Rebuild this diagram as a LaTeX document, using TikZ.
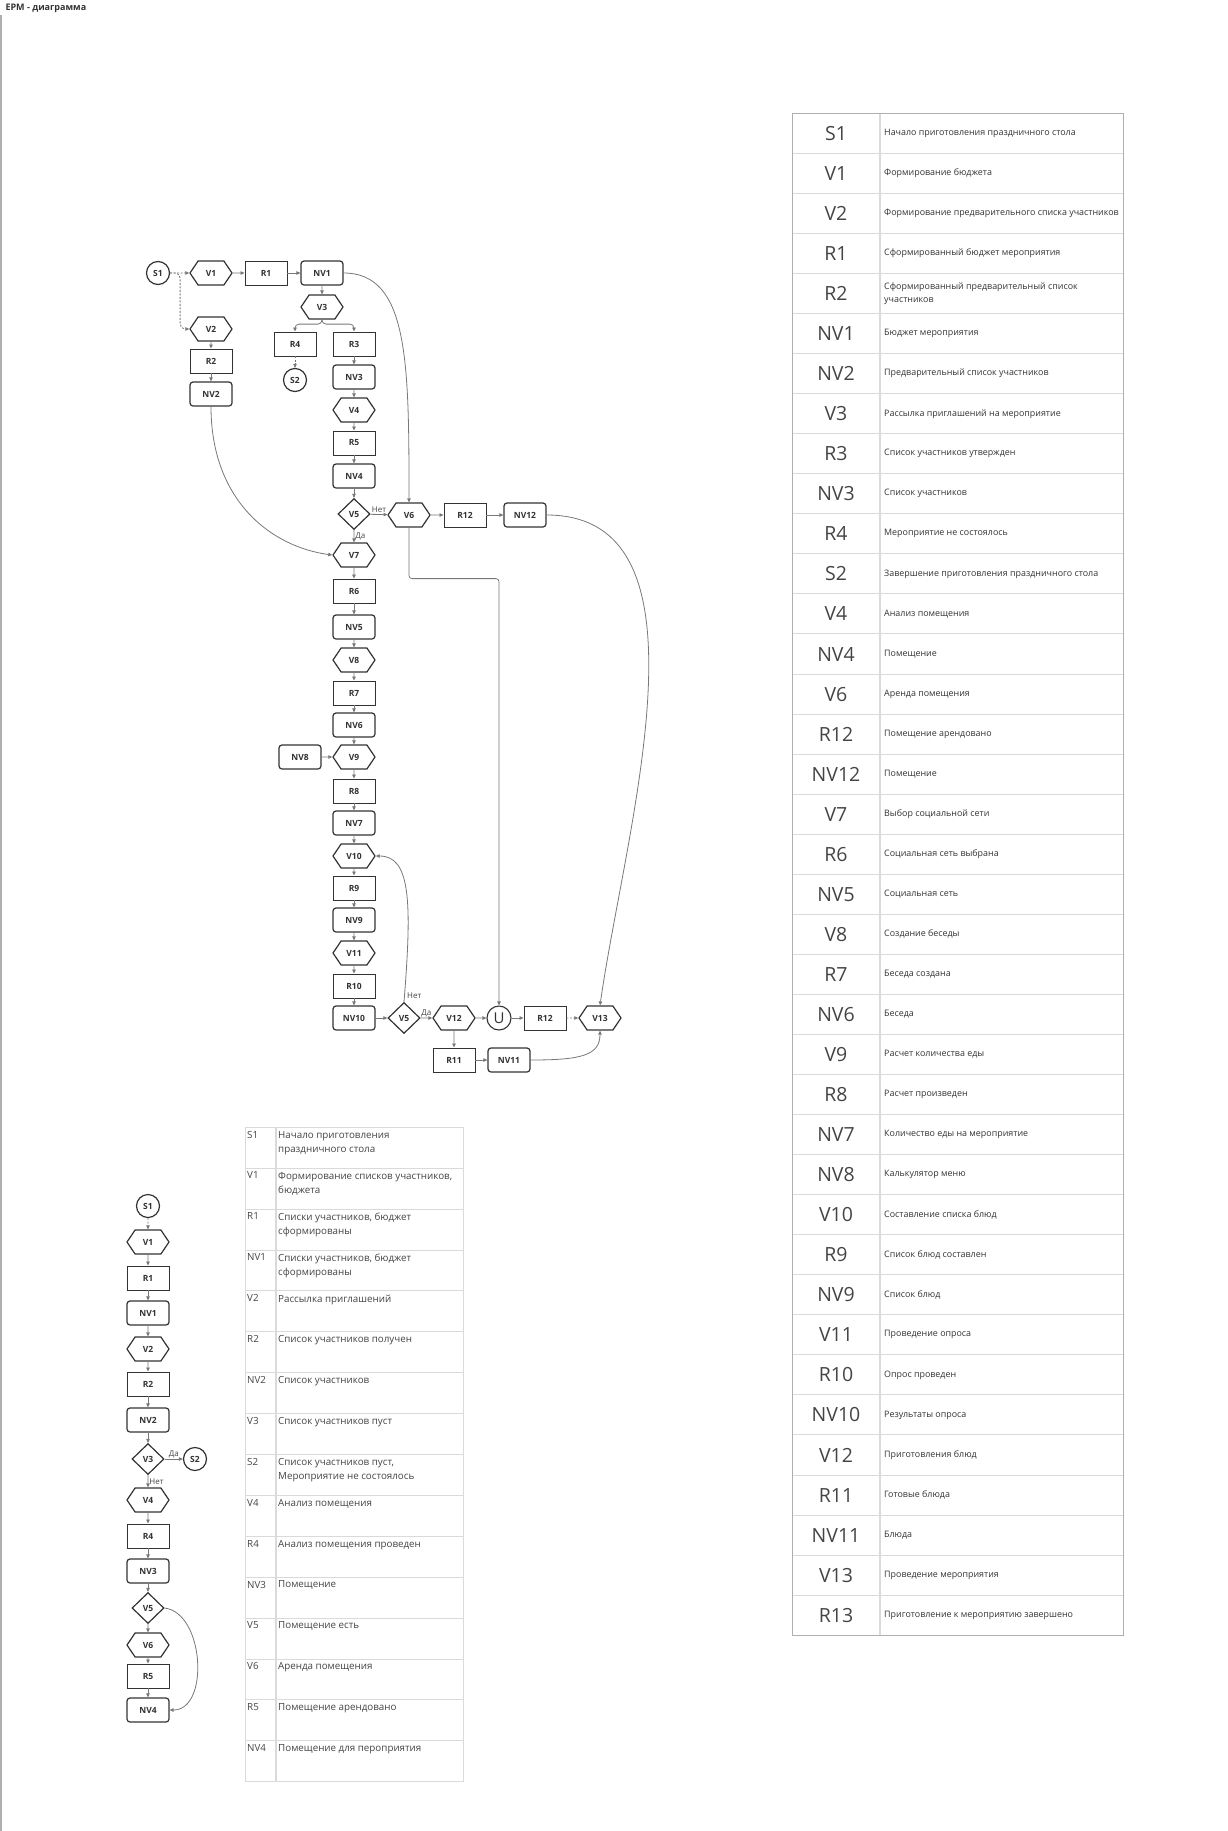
\documentclass[tikz,border=0pt]{standalone}
\usepackage{fontspec}
\setmainfont{Open Sans}
\usetikzlibrary{shapes.geometric,shapes.symbols,arrows.meta}
\definecolor{line-color}{RGB}{120,120,120}
\definecolor{box-color}{RGB}{51,51,51}
\definecolor{grid-color}{RGB}{218,218,218}
\definecolor{frame-color}{RGB}{175,175,175}
\definecolor{text-color}{RGB}{68,68,68}

\tikzset{
  base/.style={draw=box-color, line width=1.2pt, fill=white, inner sep=0pt,
    font=\fontsize{8.5}{9}\selectfont\bfseries, text=box-color},
  event/.style={base, signal, signal to=east and west, signal pointer angle=112,
    minimum width=42pt, minimum height=24pt},
  result/.style={base, rectangle, line width=0.9pt, minimum width=42pt, minimum height=24pt},
  source/.style={base, rectangle, rounded corners=3pt, minimum width=42pt, minimum height=24pt},
  terminal/.style={base, circle, minimum size=23pt},
  choice/.style={base, diamond, minimum width=32pt, minimum height=31pt},
  flow/.style={draw=line-color, line width=0.8pt, -{Triangle[length=4pt,width=3.5pt]}},
  flowdot/.style={flow, dash pattern=on 2pt off 1.5pt},
  answer/.style={font=\fontsize{8}{9}\selectfont, text=text-color, inner sep=1pt},
}

\begin{document}
\begin{tikzpicture}[x=1pt, y=-1pt]
    \useasboundingbox (0,0) rectangle (1228,1831);

    % title and frame
    \node[anchor=west, font=\fontsize{9}{10}\selectfont\bfseries, text=box-color] (title) at (2,8) {EPM - диаграмма};
    \draw[frame-color, line width=1.2pt] (1,15) -- (1,1831);

    % --- main diagram ---
    \node[terminal] (S1) at (158,273) {S1};
    \node[event]  (V1)  at (211,273) {V1};
    \node[result] (R1)  at (266,273) {R1};
    \node[source] (NV1) at (322,273) {NV1};
    \node[event]  (V3)  at (322,307) {V3};
    \node[result] (R4)  at (295,344) {R4};
    \node[terminal] (S2) at (295,380) {S2};
    \node[event]  (V2)  at (211,329) {V2};
    \node[result] (R2)  at (211,361) {R2};
    \node[source] (NV2) at (211,394) {NV2};

    \foreach \kind/\name/\y in {result/R3/344, source/NV3/377, event/V4/410, result/R5/443,
        source/NV4/476, choice/V5/514, event/V7/555, result/R6/591, source/NV5/627,
        event/V8/660, result/R7/693, source/NV6/725, event/V9/757, result/R8/791,
        source/NV7/823, event/V10/856, result/R9/888, source/NV9/920, event/V11/953,
        result/R10/986, source/NV10/1018}
      \node[\kind] (\name) at (354,\y) {\name};

    \node[event]  (V6)   at (409,515) {V6};
    \node[result] (R12)  at (465,515) {R12};
    \node[source] (NV12) at (525,515) {NV12};
    \node[source] (NV8)  at (300,757) {NV8};

    \node[choice] (V5b)  at (404,1018) {V5};
    \node[event]  (V12)  at (454,1018) {V12};
    \node[terminal, font=\fontsize{15}{15}\selectfont, line width=1.1pt, minimum size=24pt] (U) at (499,1018) {U};
    \node[result] (R12b) at (545,1018) {R12};
    \node[event]  (V13)  at (600,1018) {V13};
    \node[result] (R11)  at (454,1060) {R11};
    \node[source] (NV11) at (509,1060) {NV11};

    % connectors
    \draw[flowdot] (S1) -- (V1);
    \draw[flowdot, rounded corners=5pt] (S1.east) -- ++(10,0) |- (V2.west);
    \draw[flow] (V1) -- (R1);
    \draw[flow] (R1) -- (NV1);
    \draw[flow] (NV1) -- (V3);
    \draw[flow, rounded corners=4pt] (V3.south) -- ++(0,4.5) -| (R4.north);
    \draw[flow, rounded corners=4pt] (V3.south) -- ++(0,4.5) -| (R3.north);
    \draw[flowdot] (R4) -- (S2);
    \draw[flow] (V2) -- (R2);
    \draw[flow] (R2) -- (NV2);

    \foreach \a/\b in {R3/NV3, NV3/V4, V4/R5, R5/NV4, NV4/V5, V7/R6, R6/NV5, NV5/V8,
        V8/R7, R7/NV6, NV6/V9, V9/R8, R8/NV7, NV7/V10, V10/R9, R9/NV9, NV9/V11,
        V11/R10, R10/NV10}
      \draw[flow] (\a) -- (\b);

    \draw[flow] (V5) -- node[answer, above] {Нет} (V6);
    \draw[flow] (V5) -- node[answer, right] {Да} (V7);
    \draw[flow] (V6) -- (R12);
    \draw[flow] (R12) -- (NV12);
    \draw[flow] (NV8) -- (V9);
    \draw[flow] (NV1.east) .. controls +(65,0) and +(0,-140) .. (V6.north);
    \draw[flow] (NV2.south) .. controls +(0,95) and +(-60,-8) .. (V7.west);
    \draw[flow, rounded corners=3pt] (V6.south) -- ++(0,51) -| (U.north);
    \draw[flow] (NV12.east) .. controls +(174,0) and +(25,-176) .. (V13.north);

    \draw[flow] (NV10) -- (V5b);
    \draw[flow] (V5b) -- node[answer, above] {Да} (V12);
    \draw[flow] (V5b.north) .. controls +(8,-100) and +(35,0) .. (V10.east);
    \node[answer, anchor=west] (no) at ([xshift=2pt,yshift=6pt]V5b.north) {Нет};
    \draw[flow] (V12) -- (U);
    \draw[flow] (U) -- (R12b);
    \draw[flowdot] (R12b) -- (V13);
    \draw[flow] (V12) -- (R11);
    \draw[flow] (R11) -- (NV11);
    \draw[flow] (NV11.east) .. controls +(50,0) and +(0,25) .. (V13.south);

    % --- small diagram ---
    \foreach \kind/\name/\lbl/\y in {terminal/bS1/S1/1206, event/bV1/V1/1242, result/bR1/R1/1278,
        source/bNV1/NV1/1313, event/bV2/V2/1349, result/bR2/R2/1384, source/bNV2/NV2/1420,
        choice/bV3/V3/1459, event/bV4/V4/1500, result/bR4/R4/1536, source/bNV3/NV3/1571,
        choice/bV5/V5/1608, event/bV6/V6/1645, result/bR5/R5/1676, source/bNV4/NV4/1710}
      \node[\kind] (\name) at (148,\y) {\lbl};
    \node[terminal] (bS2) at (195,1459) {S2};

    \draw[flowdot] (bS1) -- (bV1);
    \foreach \a/\b in {bV1/bR1, bR1/bNV1, bNV1/bV2, bV2/bR2, bR2/bNV2, bNV2/bV3,
        bV4/bR4, bR4/bNV3, bNV3/bV5, bV5/bV6, bV6/bR5, bR5/bNV4}
      \draw[flow] (\a) -- (\b);
    \draw[flow] (bV3) -- node[answer, above] {Да} (bS2);
    \draw[flow] (bV3) -- node[answer, right] {Нет} (bV4);
    \draw[flow] (bV5.east) .. controls +(40,5) and +(40,0) .. (bNV4.east);

    % --- legend, right ---
    \foreach \code/\desc [count=\i] in {S1/Начало приготовления праздничного стола,
        V1/Формирование бюджета, V2/Формирование предварительного списка участников,
        R1/Сформированный бюджет мероприятия, R2/Сформированный предварительный список\\участников,
        NV1/Бюджет мероприятия, NV2/Предварительный список участников,
        V3/Рассылка приглашений на мероприятие, R3/Список участников утвержден,
        NV3/Список участников, R4/Мероприятие не состоялось,
        S2/Завершение приготовления праздничного стола, V4/Анализ помещения,
        NV4/Помещение, V6/Аренда помещения, R12/Помещение арендовано, NV12/Помещение,
        V7/Выбор социальной сети, R6/Социальная сеть выбрана, NV5/Социальная сеть,
        V8/Создание беседы, R7/Беседа создана, NV6/Беседа, V9/Расчет количества еды,
        R8/Расчет произведен, NV7/Количество еды на мероприятие, NV8/Калькулятор меню,
        V10/Составление списка блюд, R9/Список блюд составлен, NV9/Список блюд,
        V11/Проведение опроса, R10/Опрос проведен, NV10/Результаты опроса,
        V12/Приготовления блюд, R11/Готовые блюда, NV11/Блюда,
        V13/Проведение мероприятия, R13/Приготовление к мероприятию завершено} {
      \draw[grid-color, line width=1pt] (792,113.3+\i*40.05) -- (1123,113.3+\i*40.05);
      \node[font=\fontsize{19.5}{19.5}\selectfont, text=text-color] (rk\i) at (836,93.3+\i*40.05) {\code};
      \node[anchor=west, align=left, font=\fontsize{8.9}{13}\selectfont, text=box-color, inner sep=0pt]
        (rd\i) at (884,93.3+\i*40.05) {\desc};
    }
    \draw[grid-color, line width=1.8pt] (880,113.3) -- (880,1635);
    \draw[frame-color, line width=1pt] (792,113.3) rectangle (1123,1635);

    % --- legend, left ---
    \foreach \code/\desc [count=\i] in {S1/Начало приготовления\\праздничного стола,
        V1/{Формирование списков участников,\\бюджета}, R1/{Списки участников, бюджет\\сформированы},
        NV1/{Списки участников, бюджет\\сформированы}, V2/Рассылка приглашений,
        R2/Список участников получен, NV2/Список участников, V3/Список участников пуст,
        S2/{Список участников пуст,\\Мероприятие не состоялось}, V4/Анализ помещения,
        R4/Анализ помещения проведен, NV3/Помещение, V5/Помещение есть,
        V6/Аренда помещения, R5/Помещение арендовано, NV4/Помещение для пероприятия} {
      \draw[grid-color, line width=1pt] (245,1127.3+\i*40.9) -- (463,1127.3+\i*40.9);
      \node[anchor=north west, font=\fontsize{9.8}{14.5}\selectfont, text=text-color, inner sep=0pt]
        (lk\i) at (247,1089.9+\i*40.9) {\code};
      \node[anchor=north west, align=left, font=\fontsize{9.8}{14.5}\selectfont, text=text-color, inner sep=0pt]
        (ld\i) at (278,1089.9+\i*40.9) {\desc};
    }
    \draw[grid-color, line width=1.8pt] (276,1127.3) -- (276,1781.7);
    \draw[grid-color, line width=1pt] (245,1127.3) rectangle (463,1781.7);
\end{tikzpicture}
\end{document}
